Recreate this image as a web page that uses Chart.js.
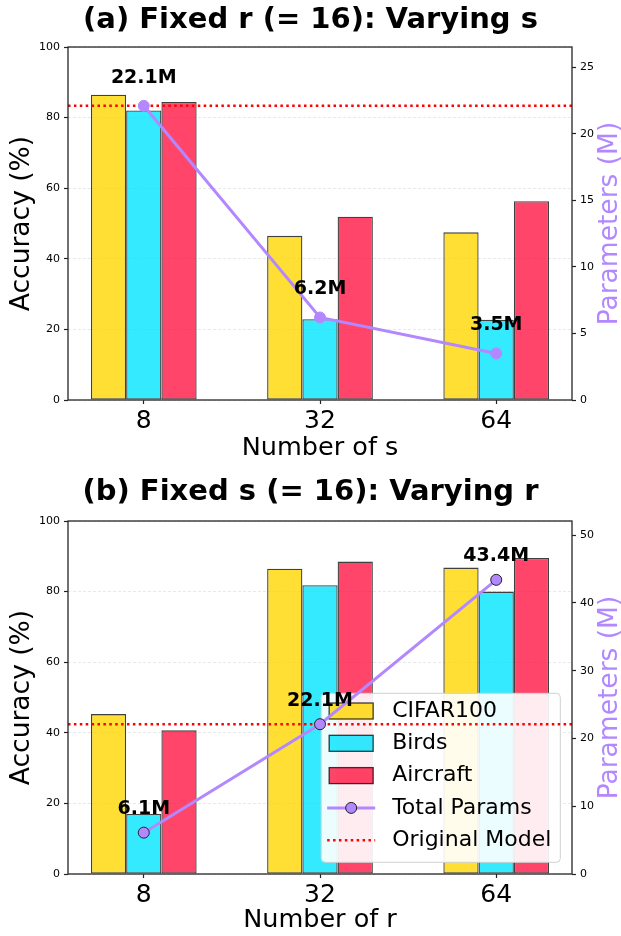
<!DOCTYPE html>
<html>
<head>
<meta charset="utf-8">
<script src="https://cdn.jsdelivr.net/npm/chart.js@4.4.1/dist/chart.umd.min.js"></script>
<style>
  body { margin: 0; background: #fff; }
  .box { position: relative; width: 621px; height: 468px; }
</style>
</head>
<body>
<div class="box"><canvas id="chartS"></canvas></div>
<div class="box"><canvas id="chartR"></canvas></div>
<script>
// values
const sLabels = ['8', '32', '64'];
const rLabels = ['8', '32', '64'];

const cifarS = [86.5, 46.5, 47.5];
const birdsS = [82.0, 22.9, 22.7];
const aircraftS = [84.4, 51.9, 56.3];
const paramsS = [22.1, 6.2, 3.5];

const cifarR = [45.3, 86.5, 86.8];
const birdsR = [17.0, 81.8, 80.0];
const aircraftR = [40.7, 88.5, 89.5];
const paramsR = [6.1, 22.1, 43.4];

const originalParams = 22.1;

Chart.defaults.font.family = "'DejaVu Sans', sans-serif";
Chart.defaults.color = '#000';

const colors = {
  cifar: 'rgba(255, 215, 0, 0.8)',
  birds: 'rgba(0, 229, 255, 0.8)',
  aircraft: 'rgba(255, 23, 68, 0.8)',
  edge: 'rgba(0, 0, 0, 0.75)',
  params: '#b388ff',
  original: '#ff0000',
};
const X_MIN = -0.43, X_MAX = 2.43;

// value labels above the params markers
const paramLabels = {
  id: 'paramLabels',
  afterDatasetsDraw(chart, args, opts) {
    const ds = chart.data.datasets;
    const idx = ds.findIndex(d => d.label === 'Total Params');
    const meta = chart.getDatasetMeta(idx);
    const ctx = chart.ctx;
    ctx.save();
    ctx.font = "bold 19px 'DejaVu Sans'";
    ctx.fillStyle = '#000';
    ctx.textAlign = 'center';
    ctx.textBaseline = 'alphabetic';
    meta.data.forEach((pt, i) => {
      ctx.fillText(ds[idx].data[i].y.toFixed(1) + 'M', pt.x, pt.y - opts.offset);
    });
    ctx.restore();
  }
};

// right axis title, reading bottom to top like the left one
const rightTitle = {
  id: 'rightTitle',
  afterDraw(chart, args, opts) {
    const {ctx, chartArea: a} = chart;
    ctx.save();
    ctx.translate(a.right + opts.gap, (a.top + a.bottom) / 2);
    ctx.rotate(-Math.PI / 2);
    ctx.font = "26.5px 'DejaVu Sans'";
    ctx.fillStyle = opts.color;
    ctx.textAlign = 'center';
    ctx.textBaseline = 'middle';
    ctx.fillText(opts.text, 0, 0);
    ctx.restore();
  }
};

// full box around the plot
const frame = {
  id: 'frame',
  afterDraw(chart) {
    const {ctx, chartArea: a} = chart;
    ctx.save();
    ctx.strokeStyle = '#262626';
    ctx.lineWidth = 1.3;
    ctx.strokeRect(a.left, a.top, a.right - a.left, a.bottom - a.top);
    ctx.restore();
  }
};

// legend inside the plot, drawn over the bars but under the lines
// (bars share one order, so dataset 0 is the last bar painted)
const boxLegend = {
  id: 'boxLegend',
  afterDatasetDraw(chart, args, opts) {
    if (!opts.show || args.index !== 0) return;
    const {ctx, chartArea: a} = chart;
    const items = chart.data.datasets;
    ctx.save();
    ctx.font = "22px 'DejaVu Sans'";
    const maxW = Math.max(...items.map(d => ctx.measureText(d.label).width));
    const rowH = 32.3;
    const w = 71 + maxW + 9;
    const h = 169;
    const x = a.right - 11.7 - w;
    const y = a.bottom - 11.7 - h;
    ctx.beginPath();
    ctx.roundRect(x, y, w, h, 4);
    ctx.fillStyle = 'rgba(255,255,255,0.9)';
    ctx.fill();
    ctx.strokeStyle = '#d0d0d0';
    ctx.lineWidth = 1;
    ctx.stroke();
    items.forEach((d, i) => {
      const cy = y + 17.7 + i * rowH;
      if (d.type === 'bar') {
        ctx.fillStyle = d.backgroundColor;
        ctx.fillRect(x + 8, cy - 8, 44, 16);
        ctx.strokeStyle = d.borderColor;
        ctx.lineWidth = d.borderWidth;
        ctx.strokeRect(x + 8, cy - 8, 44, 16);
      } else {
        ctx.beginPath();
        ctx.setLineDash(d.borderDash || []);
        ctx.strokeStyle = d.borderColor;
        ctx.lineWidth = d.borderWidth;
        ctx.moveTo(x + 6, cy);
        ctx.lineTo(x + 54, cy);
        ctx.stroke();
        ctx.setLineDash([]);
        if (d.pointRadius) {
          ctx.beginPath();
          ctx.arc(x + 30, cy, d.pointRadius, 0, Math.PI * 2);
          ctx.fillStyle = d.pointBackgroundColor;
          ctx.fill();
          ctx.strokeStyle = d.pointBorderColor;
          ctx.lineWidth = d.pointBorderWidth;
          ctx.stroke();
        }
      }
      ctx.fillStyle = '#000';
      ctx.textAlign = 'left';
      ctx.textBaseline = 'middle';
      ctx.fillText(d.label, x + 71, cy);
    });
    ctx.restore();
  }
};

function buildChart(id, o) {
  const xy = vals => vals.map((v, i) => ({x: i, y: v}));
  const barDs = (label, vals, color) => ({
    type: 'bar', label, data: xy(vals), backgroundColor: color,
    borderColor: colors.edge, borderWidth: 1.3, borderSkipped: false,
    yAxisID: 'y', order: 3, categoryPercentage: 0.6, barPercentage: 1.0,
  });
  return new Chart(document.getElementById(id), {
    type: 'bar',
    data: {
      datasets: [
        barDs('CIFAR100', o.cifar, colors.cifar),
        barDs('Birds', o.birds, colors.birds),
        barDs('Aircraft', o.aircraft, colors.aircraft),
        {
          type: 'line', label: 'Total Params', data: xy(o.params), yAxisID: 'y2', order: 1,
          borderColor: colors.params, borderWidth: 3, pointRadius: 5.5,
          pointBackgroundColor: colors.params, pointBorderColor: o.markerEdge, pointBorderWidth: 1,
        },
        {
          type: 'line', label: 'Original Model', yAxisID: 'y2', order: 2,
          data: [{x: X_MIN, y: originalParams}, {x: X_MAX, y: originalParams}],
          borderColor: colors.original, borderWidth: 2.5, borderDash: [2.5, 3.4],
          borderCapStyle: 'butt', pointRadius: 0,
        },
      ]
    },
    options: {
      responsive: true,
      maintainAspectRatio: false,
      animation: false,
      layout: { padding: 0 },
      plugins: {
        legend: { display: false },
        tooltip: { enabled: false },
        title: {
          display: true, text: o.title, color: '#000',
          font: { size: 29, weight: 'bold', lineHeight: 1.2 },
          padding: o.titlePad,
        },
        paramLabels: { offset: o.labelOffset },
        rightTitle: { text: 'Parameters (M)', color: colors.params, gap: 38 },
        boxLegend: { show: o.legend },
      },
      scales: {
        x: {
          type: 'linear', min: X_MIN, max: X_MAX, offset: false,
          afterBuildTicks: s => { s.ticks = o.labels.map((_, i) => ({value: i})); },
          afterFit: s => { s.height = o.xAxisHeight; },
          ticks: {
            callback: v => o.labels[v], font: { size: 25 }, padding: 2,
            color: '#000', autoSkip: false, maxRotation: 0,
          },
          grid: { drawOnChartArea: false, offset: false, tickLength: 4, tickColor: '#222', tickWidth: 1.2 },
          border: { display: false },
          title: {
            display: true, text: o.xTitle, color: '#000', font: { size: 25.5 },
            padding: { top: 0, bottom: o.xTitlePad },
          },
        },
        y: {
          position: 'left', min: 0, max: 100,
          ticks: { stepSize: 20, font: { size: 11 }, padding: 4, color: '#000' },
          grid: { color: 'rgba(176,176,176,0.35)', lineWidth: 0.8, tickLength: 4, tickColor: '#222', tickWidth: 1.2 },
          border: { display: false, dash: [3, 2] },
          afterFit: s => { s.width = 68; },
          title: {
            display: true, text: 'Accuracy (%)', color: '#000', font: { size: 26.5 },
            padding: { top: 6, bottom: 0 },
          },
        },
        y2: {
          position: 'right', min: 0, max: Math.max(...o.params) * 1.2,
          ticks: { stepSize: o.y2Step, font: { size: 11 }, padding: 4, color: '#000', includeBounds: false },
          grid: { drawOnChartArea: false, tickLength: 4, tickColor: '#222', tickWidth: 1.2 },
          border: { display: false },
          afterFit: s => { s.width = 49; },
        },
      },
    },
    plugins: [boxLegend, paramLabels, frame, rightTitle],
  });
}

buildChart('chartS', {
  title: '(a) Fixed r (= 16): Varying s',
  xTitle: 'Number of s',
  labels: sLabels,
  cifar: cifarS, birds: birdsS, aircraft: aircraftS, params: paramsS,
  titlePad: { top: 2.6, bottom: 9.6 },
  xAxisHeight: 68, xTitlePad: 4,
  labelOffset: 23, markerEdge: colors.params,
  legend: false, y2Step: 5,
});

buildChart('chartR', {
  title: '(b) Fixed s (= 16): Varying r',
  xTitle: 'Number of r',
  labels: rLabels,
  cifar: cifarR, birds: birdsR, aircraft: aircraftR, params: paramsR,
  titlePad: { top: 6.6, bottom: 11.6 },
  xAxisHeight: 62, xTitlePad: 0,
  labelOffset: 18.5, markerEdge: '#222',
  legend: true, y2Step: 10,
});
</script>
</body>
</html>
